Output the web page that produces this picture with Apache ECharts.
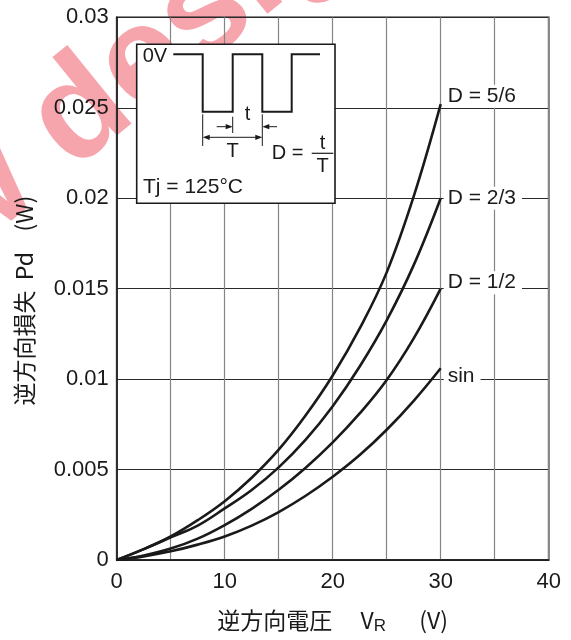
<!DOCTYPE html>
<html>
<head>
<meta charset="utf-8">
<script src="https://cdn.jsdelivr.net/npm/echarts@6/dist/echarts.min.js"></script>
<style>
html,body{margin:0;padding:0;background:#fff;}
#chart{width:571px;height:640px;}
</style>
</head>
<body>
<div id="chart"></div>
<script>
// ---- data ----
const voltage = [0, 2.5, 5, 7.5, 10, 12.5, 15, 17.5, 20, 22.5, 25, 27.5, 30];
const pdD56 = [0, 0.0006, 0.0013, 0.0022, 0.00325, 0.00455, 0.0061, 0.0080, 0.0102, 0.0128, 0.0159, 0.0201, 0.0252];
const pdD23 = [0, 0.0006, 0.00125, 0.0019, 0.00285, 0.00387, 0.00512, 0.00665, 0.0085, 0.0107, 0.01325, 0.0163, 0.0200];
const pdD12 = [0, 0.00025, 0.00063, 0.00118, 0.00193, 0.00283, 0.00388, 0.0051, 0.0065, 0.0081, 0.00995, 0.01225, 0.0150];
const pdSin = [0, 0.0002, 0.00048, 0.00085, 0.0013, 0.0019, 0.00265, 0.00355, 0.0046, 0.0058, 0.0072, 0.0088, 0.0106];
const seriesNames = ['D = 5/6', 'D = 2/3', 'D = 1/2', 'sin'];
const xTickLabels = ['0', '10', '20', '30', '40'];
const yTickLabels = ['0', '0.005', '0.01', '0.015', '0.02', '0.025', '0.03'];
const xAxisName = '逆方向電圧';
const yAxisName = '逆方向損失';

const FONT = '"Liberation Sans", Arial, "Noto Sans CJK JP", sans-serif';
const CJK = '"Noto Sans CJK JP", "Liberation Sans", sans-serif';
const INK = '#1a1a1a';

function pairs(ys) { return voltage.map((v, i) => [v, ys[i]]); }

const labelOffsets = [[0, -8], [0, 0], [0, -6], [0, 8]];
const seriesData = [pdD56, pdD23, pdD12, pdSin];

const series = seriesData.map((ys, k) => ({
  type: 'line',
  name: seriesNames[k],
  data: pairs(ys),
  smooth: 0.4,
  symbol: 'none',
  lineStyle: { color: INK, width: 2.6 },
  z: 5,
  endLabel: {
    show: true,
    formatter: seriesNames[k],
    color: INK,
    fontSize: 21,
    fontFamily: FONT,
    backgroundColor: '#fff',
    padding: [1, 6, 1, 4],
    distance: 3,
    offset: labelOffsets[k]
  }
}));

// inset diagram (annotation)
const WM = 'rgba(235,30,50,0.4)';
function arrow(x, y, dir) { // dir 1 = pointing right, -1 = left
  return { type: 'polygon', z: 21, silent: true,
    shape: { points: [[x, y], [x - dir * 7, y - 2.6], [x - dir * 7, y + 2.6]] },
    style: { fill: INK } };
}
const graphics = [
  // watermark
  { type: 'text', x: 92, y: 196, rotation: 0.68, z: -5, silent: true,
    style: { text: 'designs', font: 'bold 140px "Liberation Sans", Arial', fill: WM, textAlign: 'left', textVerticalAlign: 'bottom' } },
  { type: 'text', x: 92, y: 196, rotation: 0.68, z: -5, silent: true,
    style: { text: 'New ', font: 'bold 140px "Liberation Sans", Arial', fill: WM, textAlign: 'right', textVerticalAlign: 'bottom' } },
  // inset frame
  { type: 'rect', z: 20, silent: true,
    shape: { x: 136.7, y: 44.3, width: 198.3, height: 159 },
    style: { fill: '#fff', stroke: INK, lineWidth: 1.6 } },
  // waveform
  { type: 'polyline', z: 21, silent: true,
    shape: { points: [[173.3, 54.3], [202.7, 54.3], [202.7, 111.7], [232.7, 111.7], [232.7, 54.3], [262.3, 54.3], [262.3, 111.7], [291.7, 111.7], [291.7, 54.3], [320, 54.3]] },
    style: { stroke: INK, lineWidth: 2, fill: null } },
  // dimension ticks
  { type: 'line', z: 21, silent: true, shape: { x1: 202.7, y1: 114.3, x2: 202.7, y2: 146 }, style: { stroke: INK, lineWidth: 1 } },
  { type: 'line', z: 21, silent: true, shape: { x1: 262.3, y1: 114.3, x2: 262.3, y2: 146 }, style: { stroke: INK, lineWidth: 1 } },
  { type: 'line', z: 21, silent: true, shape: { x1: 232.7, y1: 116.7, x2: 232.7, y2: 133 }, style: { stroke: INK, lineWidth: 1 } },
  // t arrows
  { type: 'line', z: 21, silent: true, shape: { x1: 216.7, y1: 126.7, x2: 230, y2: 126.7 }, style: { stroke: INK, lineWidth: 1 } },
  arrow(232.7, 126.7, 1),
  { type: 'line', z: 21, silent: true, shape: { x1: 265, y1: 126.7, x2: 277, y2: 126.7 }, style: { stroke: INK, lineWidth: 1 } },
  arrow(262.3, 126.7, -1),
  // T arrow
  { type: 'line', z: 21, silent: true, shape: { x1: 205, y1: 137.3, x2: 260, y2: 137.3 }, style: { stroke: INK, lineWidth: 1 } },
  arrow(202.7, 137.3, -1),
  arrow(262.3, 137.3, 1),
  // texts
  { type: 'text', z: 21, silent: true, x: 142.7, y: 56.5, style: { text: '0V', font: '20px ' + FONT, fill: INK, textAlign: 'left', textVerticalAlign: 'middle' } },
  { type: 'text', z: 21, silent: true, x: 247.5, y: 114.5, style: { text: 't', font: '20px ' + FONT, fill: INK, textAlign: 'center', textVerticalAlign: 'middle' } },
  { type: 'text', z: 21, silent: true, x: 232.5, y: 151, style: { text: 'T', font: '20px ' + FONT, fill: INK, textAlign: 'center', textVerticalAlign: 'middle' } },
  { type: 'text', z: 21, silent: true, x: 271.7, y: 153, style: { text: 'D =', font: '20px ' + FONT, fill: INK, textAlign: 'left', textVerticalAlign: 'middle' } },
  { type: 'text', z: 21, silent: true, x: 322.5, y: 143, style: { text: 't', font: '20px ' + FONT, fill: INK, textAlign: 'center', textVerticalAlign: 'middle' } },
  { type: 'line', z: 21, silent: true, shape: { x1: 311.7, y1: 153.3, x2: 333.3, y2: 153.3 }, style: { stroke: INK, lineWidth: 1.2 } },
  { type: 'text', z: 21, silent: true, x: 322.5, y: 166, style: { text: 'T', font: '20px ' + FONT, fill: INK, textAlign: 'center', textVerticalAlign: 'middle' } },
  { type: 'text', z: 21, silent: true, x: 143, y: 187.5, style: { text: 'Tj = 125°C', font: '21px ' + FONT, fill: INK, textAlign: 'left', textVerticalAlign: 'middle' } }
];

const chart = echarts.init(document.getElementById('chart'), null, { renderer: 'canvas' });
chart.setOption({
  animation: false,
  backgroundColor: '#fff',
  grid: { left: 116.7, right: 22.3, top: 17.3, bottom: 78.3, show: true, borderColor: INK, borderWidth: 1.6, backgroundColor: 'transparent' },
  xAxis: {
    type: 'value', min: 0, max: 40, interval: 5,
    axisLine: { show: true, onZero: false, lineStyle: { color: INK, width: 1.6 } },
    axisTick: { show: false },
    splitLine: { show: true, lineStyle: { color: '#858585', width: 1.2 } },
    axisLabel: {
      margin: 11, fontSize: 22, color: INK, fontFamily: FONT,
      formatter: v => { const i = Math.round(v / 10); return (Math.abs(v - i * 10) < 1e-6) ? xTickLabels[i] : ''; }
    },
    name: xAxisName + '　 V{sub|R}　  (V)',
    nameLocation: 'middle', nameGap: 46,
    nameTextStyle: { fontSize: 23, color: INK, fontFamily: CJK,
      rich: { sub: { fontSize: 17, fontFamily: FONT, color: INK, padding: [12, 0, 0, 0] } } }
  },
  yAxis: {
    type: 'value', min: 0, max: 0.03, interval: 0.005,
    axisLine: { show: true, onZero: false, lineStyle: { color: INK, width: 1.6 } },
    axisTick: { show: false },
    splitLine: { show: true, lineStyle: { color: '#2a2a2a', width: 1 } },
    axisLabel: {
      margin: 8, fontSize: 22, color: INK, fontFamily: FONT,
      formatter: v => yTickLabels[Math.round(v / 0.005)]
    },
    name: yAxisName + '  Pd    (W)',
    nameLocation: 'middle', nameGap: 81, nameRotate: 90,
    nameTextStyle: { fontSize: 23, color: INK, fontFamily: CJK, padding: [0, 24, 0, 0] }
  },
  series: series,
  graphic: { elements: graphics }
});
</script>
</body>
</html>
